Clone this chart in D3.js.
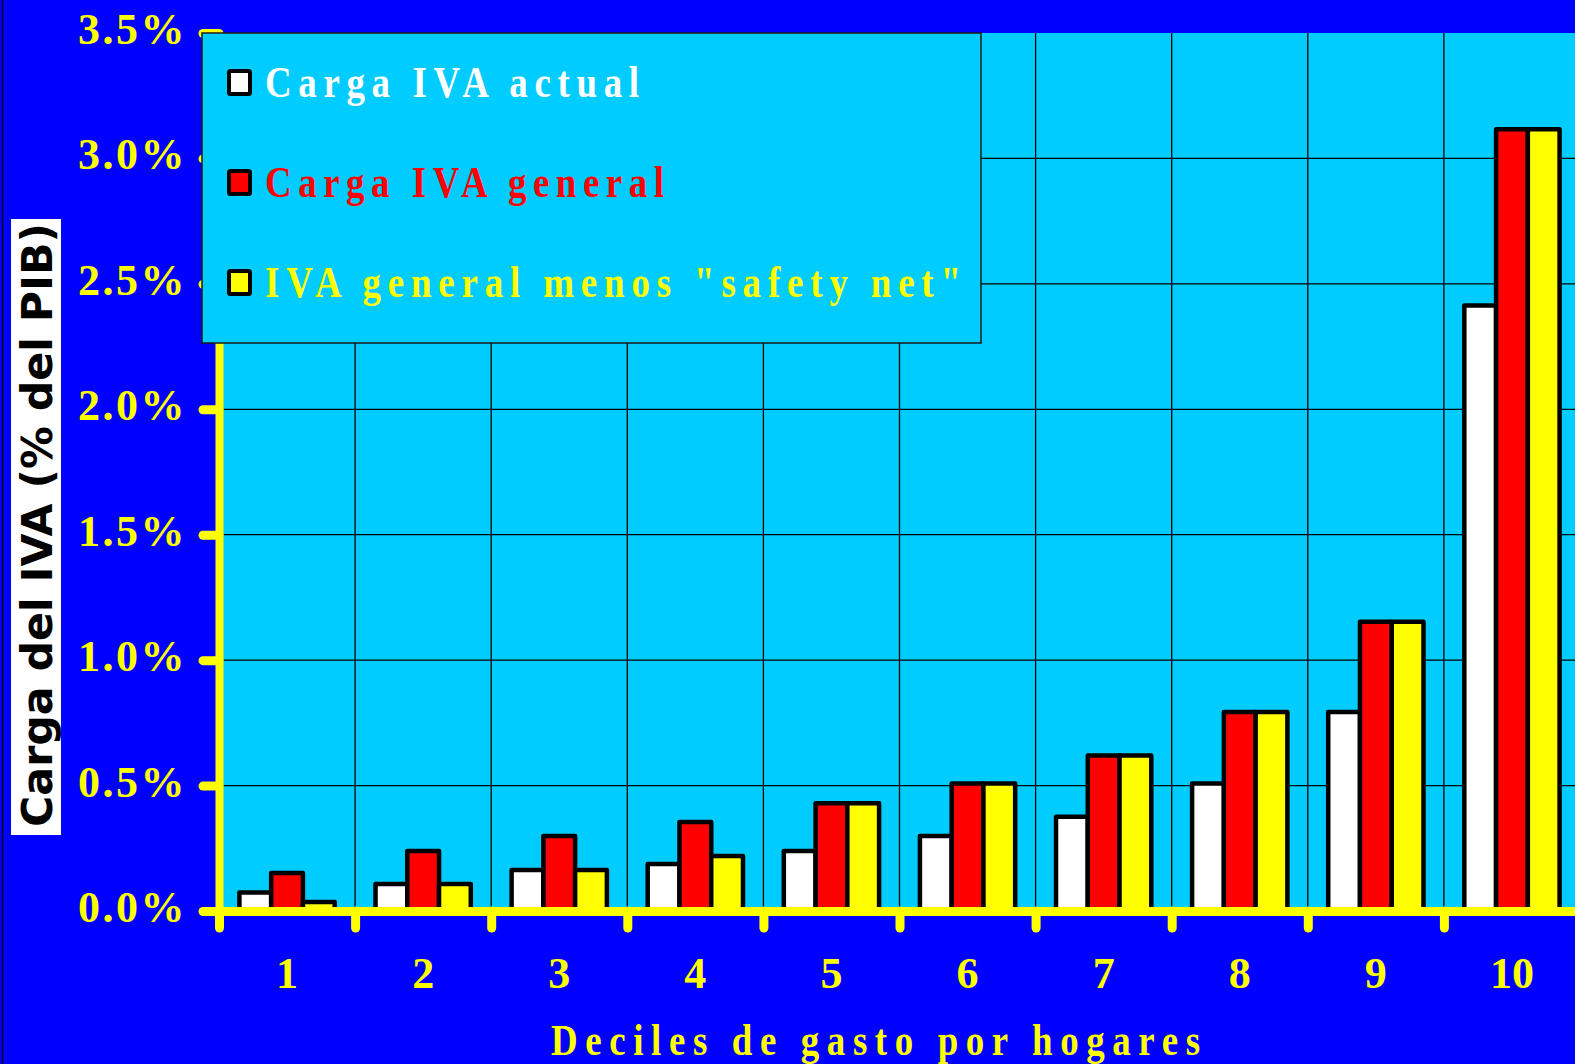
<!DOCTYPE html>
<html>
<head>
<meta charset="utf-8">
<script src="https://cdn.jsdelivr.net/npm/d3@7"></script>
<style>
  body { margin: 0; background: #0000ff; overflow: hidden; }
  svg { display: block; }
</style>
</head>
<body>
<div id="chart"></div>
<script>
// deciles de gasto y carga del IVA (% del PIB)
const deciles = ["1", "2", "3", "4", "5", "6", "7", "8", "9", "10"];
const cargaActual  = [0.074, 0.108, 0.163, 0.187, 0.239, 0.299, 0.376, 0.508, 0.793, 2.414];
const cargaGeneral = [0.151, 0.239, 0.299, 0.355, 0.430, 0.508, 0.620, 0.793, 1.153, 3.116];
const ivaSafetyNet = [0.036, 0.108, 0.163, 0.219, 0.430, 0.508, 0.620, 0.793, 1.153, 3.116];

const seriesNames = ["Carga IVA actual", "Carga IVA general", "IVA general menos \"safety net\""];
const seriesColors = ["#ffffff", "#ff0000", "#ffff00"];
const yTicks = [0, 0.5, 1.0, 1.5, 2.0, 2.5, 3.0, 3.5];

const yTitle = "Carga del IVA (% del PIB)";
const xTitle = "Deciles de gasto por hogares";

const width = 1575;
const height = 1064;
const serif = "'Liberation Serif', 'Times New Roman', serif";
const squeeze = 0.82; // the original serif text is drawn narrow

const series = [cargaActual, cargaGeneral, ivaSafetyNet];

const svg = d3.select("#chart")
    .append("svg")
    .attr("width", width)
    .attr("height", height);

svg.append("rect")
    .attr("width", width)
    .attr("height", height)
    .attr("fill", "#0000ff");

const plotLeft = 219, plotRight = 1580, plotTop = 33, plotBottom = 911;

const x0 = d3.scaleBand()
    .domain(deciles)
    .range([plotLeft, plotRight])
    .paddingInner(0.3)
    .paddingOuter(0.15);

const x1 = d3.scaleBand()
    .domain(d3.range(series.length))
    .range([0, x0.bandwidth()]);

// boundaries between deciles
const xb = d3.scaleLinear()
    .domain([0, deciles.length])
    .range([plotLeft, plotRight]);

const y = d3.scaleLinear()
    .domain([0, 3.5])
    .range([plotBottom, plotTop]);

svg.append("rect")
    .attr("x", plotLeft)
    .attr("y", plotTop)
    .attr("width", plotRight - plotLeft)
    .attr("height", plotBottom - plotTop)
    .attr("fill", "#00ccff");

// grid
svg.append("g")
    .selectAll("line")
    .data(yTicks.filter(d => d > 0 && d < 3.5))
    .enter().append("line")
    .attr("x1", plotLeft).attr("x2", plotRight)
    .attr("y1", d => y(d)).attr("y2", d => y(d))
    .attr("stroke", "#000").attr("stroke-width", 1.3);

svg.append("g")
    .selectAll("line")
    .data(d3.range(1, deciles.length))
    .enter().append("line")
    .attr("x1", d => xb(d)).attr("x2", d => xb(d))
    .attr("y1", plotTop).attr("y2", plotBottom)
    .attr("stroke", "#000").attr("stroke-width", 1.3);

// bars
const groups = svg.append("g")
    .selectAll("g")
    .data(deciles)
    .enter().append("g")
    .attr("transform", d => `translate(${x0(d)},0)`);

groups.selectAll("rect")
    .data((d, i) => series.map((s, k) => ({ k: k, v: s[i] })))
    .enter().append("rect")
    .attr("x", d => x1(d.k))
    .attr("y", d => y(d.v))
    .attr("width", x1.bandwidth())
    .attr("height", d => y(0) - y(d.v))
    .attr("fill", d => seriesColors[d.k])
    .attr("stroke", "#000")
    .attr("stroke-width", 4.5)
    .attr("stroke-linejoin", "round");

// y axis
const yAxis = svg.append("g")
    .attr("transform", `translate(${plotLeft},0)`)
    .call(d3.axisLeft(y)
        .tickValues(yTicks)
        .tickSize(16)
        .tickSizeOuter(0)
        .tickFormat(d => d.toFixed(1) + "%"));

yAxis.select(".domain")
    .attr("stroke", "#ffff00")
    .attr("stroke-width", 8);

yAxis.selectAll(".tick line")
    .attr("stroke", "#ffff00")
    .attr("stroke-width", 9)
    .attr("stroke-linecap", "round");

yAxis.selectAll(".tick text")
    .attr("x", -32)
    .attr("dy", "0.24em")
    .attr("fill", "#ffff00")
    .style("font-family", serif)
    .style("font-weight", "bold")
    .style("font-size", "44px")
    .style("letter-spacing", "2.5px");

// x axis: line + ticks on boundaries
const xAxis = svg.append("g")
    .attr("transform", `translate(0,${plotBottom})`)
    .call(d3.axisBottom(xb)
        .ticks(deciles.length)
        .tickSize(17)
        .tickSizeOuter(0)
        .tickFormat(""));

xAxis.select(".domain")
    .attr("stroke", "#ffff00")
    .attr("stroke-width", 9);

xAxis.selectAll(".tick line")
    .attr("stroke", "#ffff00")
    .attr("stroke-width", 9)
    .attr("stroke-linecap", "round");

// x labels at decile centres
const xLabels = svg.append("g")
    .attr("transform", `translate(0,${plotBottom})`)
    .call(d3.axisBottom(x0).tickSize(0));

xLabels.select(".domain").remove();

xLabels.selectAll(".tick text")
    .attr("y", 77)
    .attr("dy", 0)
    .attr("fill", "#ffff00")
    .style("font-family", serif)
    .style("font-weight", "bold")
    .style("font-size", "44px");

// legend
const legend = svg.append("g")
    .attr("transform", "translate(202,33)");

legend.append("rect")
    .attr("width", 779)
    .attr("height", 310)
    .attr("fill", "#00ccff")
    .attr("stroke", "#1a1a1a")
    .attr("stroke-width", 1.5);

const legendWidths = [374, 399, 696];

const items = legend.selectAll(".legend-item")
    .data(seriesNames)
    .enter().append("g")
    .attr("class", "legend-item")
    .attr("transform", (d, i) => `translate(0,${i * 100})`);

items.append("rect")
    .attr("x", 27)
    .attr("y", 38)
    .attr("width", 21)
    .attr("height", 23)
    .attr("rx", 1.5)
    .attr("fill", (d, i) => seriesColors[i])
    .attr("stroke", "#000")
    .attr("stroke-width", 4);

items.append("text")
    .attr("transform", `translate(63,64) scale(${squeeze},1)`)
    .attr("textLength", (d, i) => legendWidths[i] / squeeze)
    .attr("lengthAdjust", "spacing")
    .attr("fill", (d, i) => seriesColors[i])
    .style("font-family", serif)
    .style("font-weight", "bold")
    .style("font-size", "45px")
    .text(d => d);

// y title in white box
svg.append("rect")
    .attr("x", 11)
    .attr("y", 219)
    .attr("width", 50)
    .attr("height", 616)
    .attr("fill", "#ffffff");

svg.append("text")
    .attr("transform", "translate(52,525) rotate(-90)")
    .attr("text-anchor", "middle")
    .attr("textLength", 604)
    .attr("lengthAdjust", "spacingAndGlyphs")
    .attr("fill", "#000")
    .style("font-family", "'DejaVu Sans', sans-serif")
    .style("font-weight", "bold")
    .style("font-size", "43px")
    .text(yTitle);

// x title
svg.append("text")
    .attr("transform", `translate(551,1055) scale(${squeeze},1)`)
    .attr("textLength", 649 / squeeze)
    .attr("lengthAdjust", "spacing")
    .attr("fill", "#ffff00")
    .style("font-family", serif)
    .style("font-weight", "bold")
    .style("font-size", "45px")
    .text(xTitle);

// left frame line
svg.append("line")
    .attr("x1", 2.5).attr("x2", 2.5)
    .attr("y1", 0).attr("y2", height)
    .attr("stroke", "#000")
    .attr("stroke-width", 1.5);
</script>
</body>
</html>
